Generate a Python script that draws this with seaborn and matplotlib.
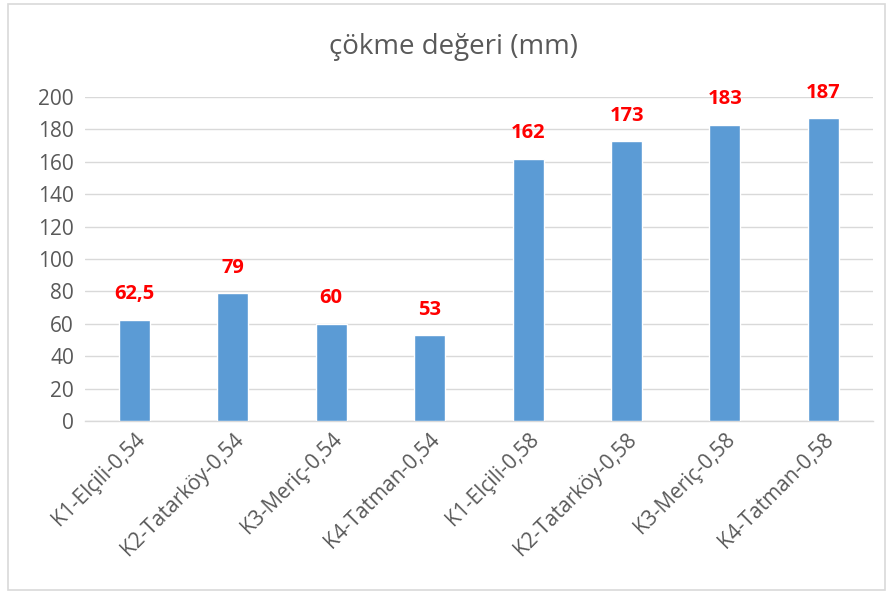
import pandas as pd
import matplotlib.pyplot as plt
import matplotlib.patches as mpatches
import seaborn as sns

# Chart data
categories = ['K1-Elçili-0,54', 'K2-Tatarköy-0,54', 'K3-Meriç-0,54', 'K4-Tatman-0,54',
              'K1-Elçili-0,58', 'K2-Tatarköy-0,58', 'K3-Meriç-0,58', 'K4-Tatman-0,58']
values = [62.5, 79, 60, 53, 162, 173, 183, 187]
value_labels = ['62,5', '79', '60', '53', '162', '173', '183', '187']
y_ticks = [0, 20, 40, 60, 80, 100, 120, 140, 160, 180, 200]

data = pd.DataFrame({'sample': categories, 'slump': values})

sns.set_style('white')
plt.rcParams['font.family'] = ['Open Sans', 'DejaVu Sans']

fig = plt.figure(figsize=(8.9, 5.92), dpi=100)
ax = fig.add_axes([0.0955, 0.289, 0.885, 0.547])

sns.barplot(data=data, x='sample', y='slump', color='#5b9bd5', saturation=1,
            width=0.315, ax=ax, zorder=3)

ax.set_ylim(0, 200)
ax.set_yticks(y_ticks)
ax.set_xlim(-0.5, len(categories) - 0.5)
ax.yaxis.grid(True, color='#d9d9d9', linewidth=1, zorder=0)
ax.set_axisbelow(True)
for side in ['top', 'right', 'left']:
    ax.spines[side].set_visible(False)
ax.spines['bottom'].set_color('#d9d9d9')
ax.spines['bottom'].set_linewidth(1)
ax.tick_params(axis='both', length=0, labelsize=15, colors='#595959')
ax.tick_params(axis='y', pad=8)
ax.tick_params(axis='x', pad=6)
ax.set_xticks(range(len(categories)))
ax.set_xticklabels(categories, rotation=45, ha='right', rotation_mode='anchor')
ax.set_xlabel('')
ax.set_ylabel('')

# Data labels
for i, (v, txt) in enumerate(zip(values, value_labels)):
    ax.annotate(txt, (i, v), xytext=(0, 11), textcoords='offset points',
                ha='center', va='bottom', color='#ff0000', fontsize=14.5,
                fontweight='bold', clip_on=False)

fig.suptitle('çökme değeri (mm)', x=0.51, y=0.945, fontsize=20, color='#595959')

# Chart border
fig.patches.append(mpatches.Rectangle((8 / 890, 2 / 592), 877 / 890, 586 / 592,
                                      transform=fig.transFigure, fill=False,
                                      edgecolor='#d9d9d9', linewidth=1.2))

fig.savefig('out.png', dpi=100)
